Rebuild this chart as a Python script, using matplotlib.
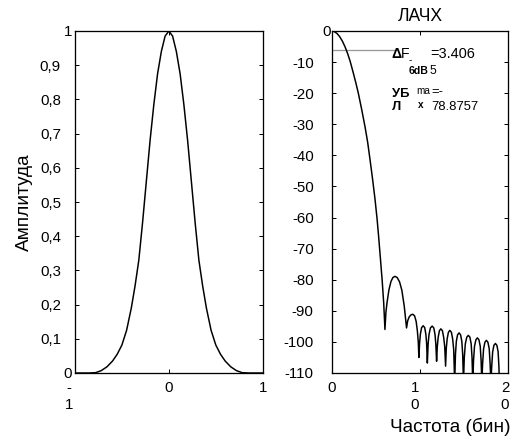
import matplotlib
matplotlib.use('Agg')
import matplotlib.pyplot as plt
import matplotlib.transforms as mtransforms

plt.rcParams['font.family'] = ['Liberation Sans', 'DejaVu Sans']

# окно (левый график)
t = [-1.0, -0.85, -0.78, -0.72, -0.66, -0.6, -0.55, -0.5, -0.45, -0.4, -0.36, -0.32,
     -0.28, -0.24, -0.2, -0.16, -0.12, -0.08, -0.04, 0.0,
     0.04, 0.08, 0.12, 0.16, 0.2, 0.24, 0.28, 0.32, 0.36, 0.4, 0.45, 0.5,
     0.55, 0.6, 0.66, 0.72, 0.78, 0.85, 1.0]
w = [0.0, 0.0, 0.001, 0.007, 0.018, 0.035, 0.055, 0.082, 0.125, 0.19, 0.255, 0.33,
     0.44, 0.56, 0.68, 0.785, 0.875, 0.94, 0.985, 1.0,
     0.985, 0.94, 0.875, 0.785, 0.68, 0.56, 0.44, 0.33, 0.255, 0.19, 0.125, 0.082,
     0.055, 0.035, 0.018, 0.007, 0.001, 0.0, 0.0]

# ЛАЧХ (правый график), бины / дБ
freq = [0, 0.3, 0.6, 0.9, 1.2, 1.5, 1.8, 2.1, 2.45, 2.75, 3.02, 3.4, 3.78, 4.08, 4.34,
        4.6, 4.91, 5.15, 5.32, 5.55, 5.73, 5.9, 6.04,
        6.15, 6.27, 6.49, 6.72, 6.94, 7.17, 7.43, 7.7, 7.96, 8.23, 8.38, 8.49,
        8.62, 8.8, 9.0, 9.2, 9.4, 9.58, 9.72, 9.82, 9.89,
        9.97, 10.06, 10.2, 10.38, 10.55, 10.68, 10.77, 10.85,
        10.94, 11.04, 11.2, 11.4, 11.58, 11.72, 11.81, 11.9,
        11.98, 12.08, 12.22, 12.38, 12.56, 12.7, 12.82, 12.92,
        13.0, 13.1, 13.24, 13.4, 13.58, 13.72, 13.84, 13.95,
        14.04, 14.14, 14.28, 14.45, 14.62, 14.76, 14.86, 14.95,
        15.04, 15.16, 15.32, 15.5, 15.68, 15.82, 15.92, 16.0,
        16.09, 16.2, 16.36, 16.53, 16.7, 16.85, 16.95, 17.03,
        17.12, 17.23, 17.38, 17.55, 17.72, 17.87, 17.97, 18.06,
        18.15, 18.26, 18.4, 18.57, 18.74, 18.88, 18.97, 19.05]
lach = [0, -0.2, -0.8, -1.8, -3.2, -5.0, -7.2, -9.8, -13.5, -16.8, -20.0, -25.2, -30.8, -35.8, -41.2,
        -46.8, -54.0, -60.5, -66.0, -74.0, -80.4, -87.5, -96.0,
        -90.5, -87.5, -83.3, -80.6, -79.3, -78.9, -79.3, -80.7, -83.4, -88.5, -92.5, -95.5,
        -93.2, -91.9, -91.3, -91.1, -91.6, -93.4, -96.5, -100.0, -105.0,
        -100.5, -97.5, -95.4, -94.8, -95.4, -97.5, -100.5, -106.8,
        -100.6, -97.6, -95.5, -94.9, -95.5, -97.6, -100.6, -106.2,
        -101.5, -98.5, -96.4, -95.8, -96.4, -98.5, -101.5, -107.8,
        -102.0, -99.0, -96.9, -96.3, -96.9, -99.0, -102.5, -113.0,
        -104.0, -99.8, -97.7, -97.1, -97.7, -99.8, -104.0, -113.0,
        -105.0, -100.6, -98.5, -97.9, -98.5, -100.6, -105.0, -113.0,
        -106.0, -101.4, -99.3, -98.7, -99.3, -101.4, -106.0, -113.0,
        -107.0, -102.2, -100.1, -99.5, -100.1, -102.2, -107.0, -113.0,
        -108.0, -103.2, -101.1, -100.5, -101.1, -103.2, -108.0, -115.0]

level_6db = -6
level_x = [0, 7.5]

yt_left = [0, 0.1, 0.2, 0.3, 0.4, 0.5, 0.6, 0.7, 0.8, 0.9, 1.0]
yl_left = ['0', '0,1', '0,2', '0,3', '0,4', '0,5', '0,6', '0,7', '0,8', '0,9', '1']
xt_left = [-1, 0, 1]
xl_left = ['-\n1', '0', '1']
yt_right = list(range(-110, 1, 10))
yl_right = [str(v) for v in yt_right]
xt_right = [0, 10, 20]
xl_right = ['0', '1\n0', '2\n0']

W, H = 521, 437
fig = plt.figure(figsize=(W / 72, H / 72), dpi=72)
ax1 = fig.add_axes([75 / W, 1 - 373 / H, 187.7 / W, 342 / H])
ax2 = fig.add_axes([331.7 / W, 1 - 373 / H, 176.3 / W, 342 / H])

ax1.plot(t, w, color='black', lw=1.5)
ax1.set_xlim(-1, 1)
ax1.set_ylim(0, 1)
ax1.set_xticks(xt_left)
ax1.set_xticklabels(xl_left)
ax1.set_yticks(yt_left)
ax1.set_yticklabels(yl_left)
ax1.set_ylabel('Амплитуда', fontsize=19)
ax1.yaxis.set_label_coords(-0.224, 0.5)

ax2.plot(level_x, [level_6db, level_6db], color='#999999', lw=1.3)
ax2.plot(freq, lach, color='black', lw=1.5)
ax2.set_xlim(0, 20)
ax2.set_ylim(-110, 0)
ax2.set_xticks(xt_right)
ax2.set_xticklabels(xl_right)
ax2.set_yticks(yt_right)
ax2.set_yticklabels(yl_right)
ax2.set_title('ЛАЧХ', fontsize=17.5, pad=10)
ax2.set_xlabel('Частота (бин)', fontsize=19, va='baseline')
ax2.xaxis.set_label_coords(0.671, (373 - 432) / 342)

for ax, ypad in ((ax1, 14), (ax2, 18)):
    for s in ax.spines.values():
        s.set_linewidth(1.3)
    ax.tick_params(direction='in', length=4, width=1, top=True, right=True,
                   labelsize=15)
    ax.tick_params(axis='y', pad=ypad)
    ax.tick_params(axis='x', pad=8)

fig.canvas.draw()


def shift(lab, dx):
    lab.set_transform(lab.get_transform() +
                      mtransforms.ScaledTranslation(dx / 72, 0, fig.dpi_scale_trans))


ticks = ax1.yaxis.get_major_ticks()
shift(ticks[0].label1, 11)
shift(ticks[-1].label1, 11)
shift(ax2.yaxis.get_major_ticks()[-1].label1, 17)
xt1 = ax1.xaxis.get_major_ticks()
shift(xt1[0].label1, -6)
xt2 = ax2.xaxis.get_major_ticks()
shift(xt2[1].label1, -5)
shift(xt2[2].label1, -3)
for tk in xt1 + xt2:
    tk.label1.set_linespacing(1.25)


# подписи ширины и уровня боковых лепестков
def ftxt(px, py, s, size, bold=False):
    fig.text(px / W, 1 - py / H, s, fontsize=size, va='baseline', ha='left',
             fontweight='bold' if bold else 'normal')


ftxt(391.7, 58, 'Δ', 14, True)
ftxt(401, 58, 'F', 14)
ftxt(409, 63, '-', 10)
ftxt(409, 74, '6dB', 10.5, True)
ftxt(430, 58, '=3.406', 14.5)
ftxt(430, 74, '5', 12)
ftxt(391.7, 96.7, 'УБ', 13, True)
ftxt(391.7, 110, 'Л', 13, True)
ftxt(416.7, 94, 'ma', 10)
ftxt(418, 108, 'x', 10, True)
ftxt(431, 95, '=-', 13)
ftxt(431, 110, '78.8757', 13)

fig.savefig('out.png', dpi=72)
